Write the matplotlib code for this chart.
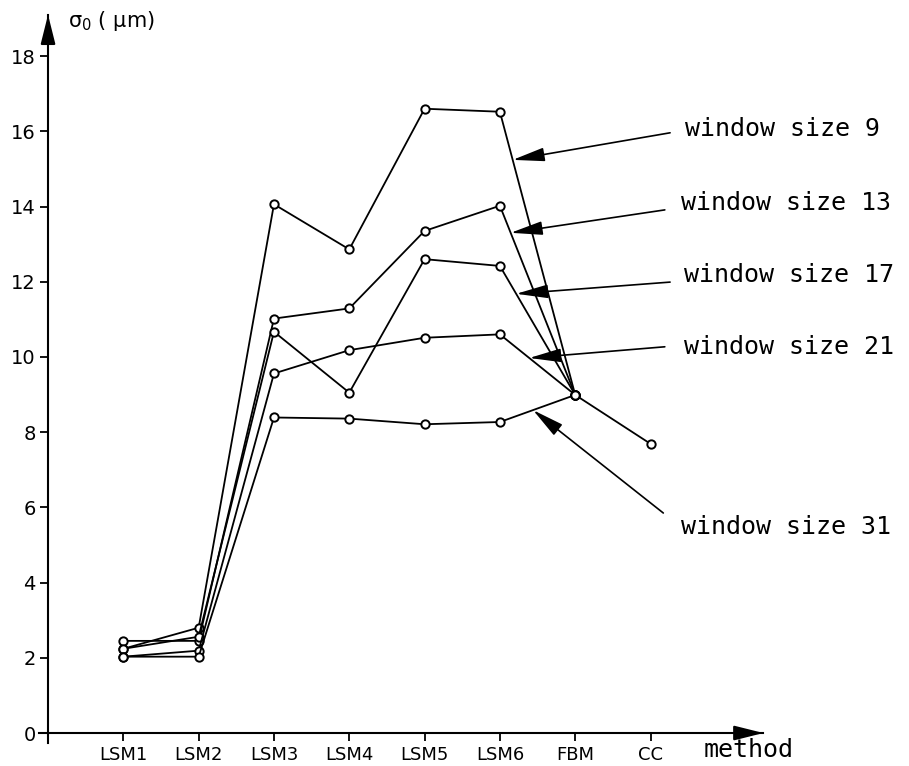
import numpy as np
import matplotlib
matplotlib.use('Agg')
import matplotlib.pyplot as plt

# methods along the x axis
methods = ['LSM1', 'LSM2', 'LSM3', 'LSM4', 'LSM5', 'LSM6', 'FBM', 'CC']

# sigma_0 (um) for each window size (nan = no point)
ws9 = [2.24, 2.80, 14.06, 12.86, 16.60, 16.52, 8.99, np.nan]
ws13 = [2.45, 2.45, 11.02, 11.29, 13.35, 14.02, 8.99, np.nan]
ws17 = [2.24, 2.56, 10.67, 9.05, 12.60, 12.42, 8.99, np.nan]
ws21 = [2.03, 2.19, 9.56, 10.18, 10.51, 10.60, 8.99, 7.69]
ws31 = [2.03, 2.03, 8.39, 8.36, 8.21, 8.27, 8.99, np.nan]

series = [ws9, ws13, ws17, ws21, ws31]
labels = ['window size 9', 'window size 13', 'window size 17',
          'window size 21', 'window size 31']

yticks = [0, 2, 4, 6, 8, 10, 12, 14, 16, 18]

fig = plt.figure(figsize=(9.09, 7.66), dpi=100)
ax = fig.add_axes([0.0429, 0.0298, 0.797, 0.951])
ax.set_xlim(-0.12, 9.5)
ax.set_ylim(-0.27, 19.1)

x = np.arange(1, len(methods) + 1)
for s in series:
    ax.plot(x, s, '-', color='black', lw=1.3, marker='o', ms=6,
            mfc='white', mec='black', mew=1.4, zorder=3)

# axes through the origin, with arrow heads
for side in ['top', 'right']:
    ax.spines[side].set_visible(False)
ax.spines['left'].set_position(('data', 0))
ax.spines['bottom'].set_position(('data', 0))
ax.spines['left'].set_linewidth(1.5)
ax.spines['bottom'].set_linewidth(1.5)
head = '-|>,head_length=1.2,head_width=0.3'
ax.annotate('', xy=(1.0, 0), xytext=(0.96, 0),
            xycoords=('axes fraction', 'data'),
            arrowprops=dict(arrowstyle=head, color='black', lw=1.5,
                            mutation_scale=15, shrinkA=0, shrinkB=0))
ax.annotate('', xy=(0, 1.0), xytext=(0, 0.96),
            xycoords=('data', 'axes fraction'),
            arrowprops=dict(arrowstyle=head, color='black', lw=1.5,
                            mutation_scale=15, shrinkA=0, shrinkB=0))

ax.set_xticks(x)
ax.set_xticklabels(methods, fontsize=13)
ax.set_yticks(yticks)
ax.set_yticklabels([str(v) for v in yticks], fontsize=14)
ax.tick_params(direction='out', length=6, width=1.3, pad=3)

ax.text(0.27, 18.93, r'$\mathregular{\sigma_0}$ ( μm)', fontsize=15,
        va='center', ha='left')
ax.text(8.7, -0.45, 'method', fontsize=18, family='DejaVu Sans Mono',
        ha='left', va='center')

# labels with arrows pointing at the LSM6 -> FBM segment of each curve
arrow_frac = [0.17, 0.143, 0.216, 0.39, 0.44]
tails = [(8.26, 15.96), (8.19, 13.91), (8.26, 11.99), (8.19, 10.27), (8.17, 5.85)]
text_pos = [(8.46, 16.06), (8.40, 14.1), (8.44, 12.18), (8.44, 10.27), (8.40, 5.48)]
for s, lab, f, tail, tp in zip(series, labels, arrow_frac, tails, text_pos):
    tx = 6 + f
    ty = s[5] + f * (s[6] - s[5])
    ax.annotate('', xy=(tx, ty), xytext=tail,
                arrowprops=dict(arrowstyle='-|>,head_length=1.4,head_width=0.3',
                                color='black', lw=1.2, mutation_scale=14,
                                shrinkA=0, shrinkB=0))
    ax.text(tp[0], tp[1], lab, fontsize=18, family='DejaVu Sans Mono',
            ha='left', va='center')

fig.savefig('out.png', dpi=100)
